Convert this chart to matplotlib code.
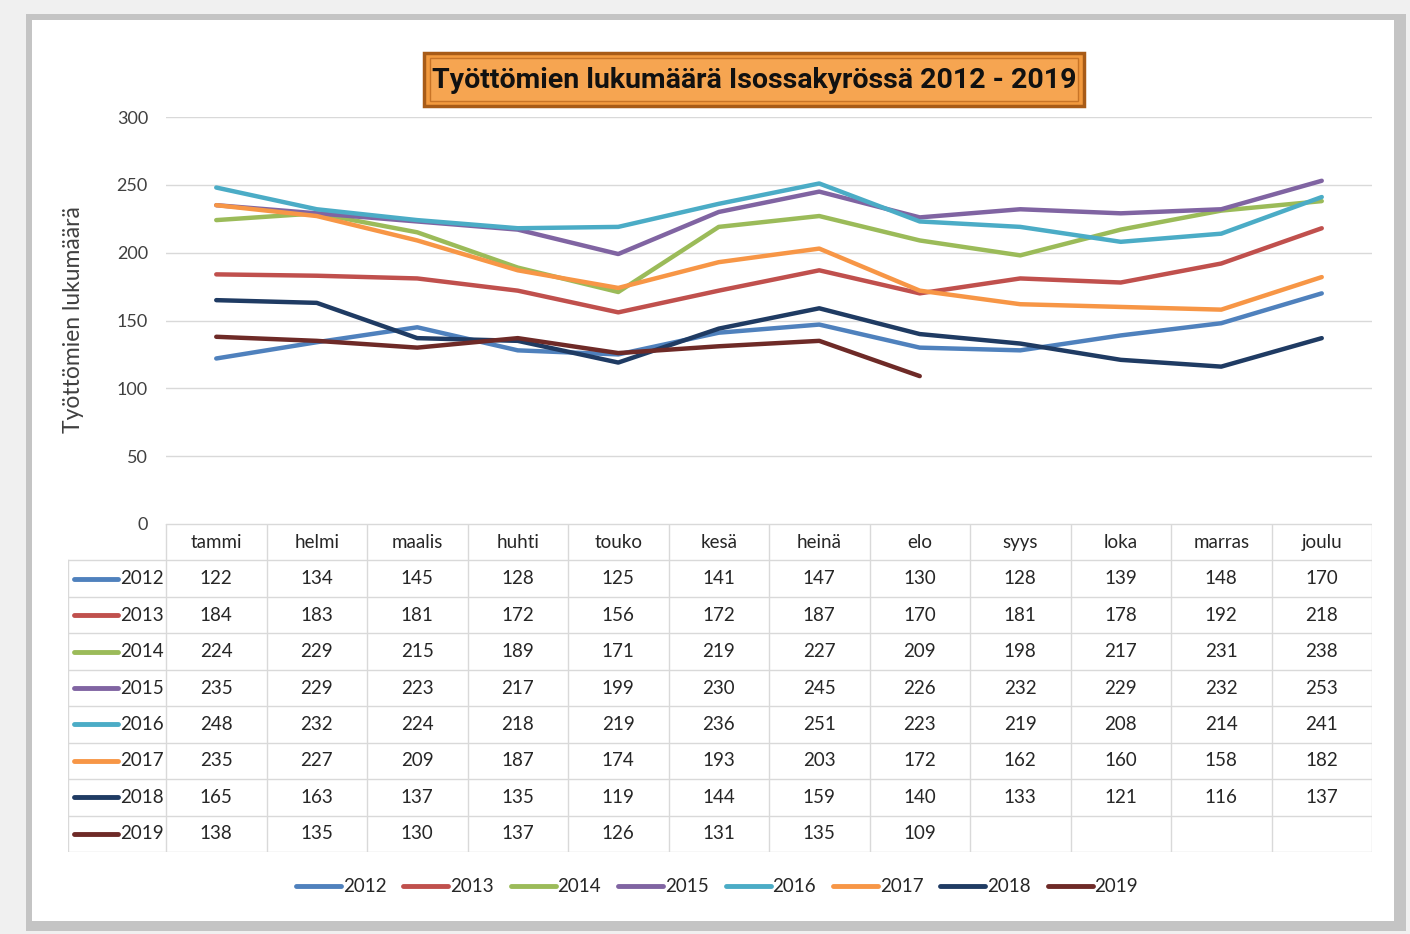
import matplotlib.pyplot as plt
from matplotlib.patches import Rectangle
from matplotlib.lines import Line2D

months = ["tammi", "helmi", "maalis", "huhti", "touko", "kesä",
          "heinä", "elo", "syys", "loka", "marras", "joulu"]
years = ["2012", "2013", "2014", "2015", "2016", "2017", "2018", "2019"]

v2012 = [122, 134, 145, 128, 125, 141, 147, 130, 128, 139, 148, 170]
v2013 = [184, 183, 181, 172, 156, 172, 187, 170, 181, 178, 192, 218]
v2014 = [224, 229, 215, 189, 171, 219, 227, 209, 198, 217, 231, 238]
v2015 = [235, 229, 223, 217, 199, 230, 245, 226, 232, 229, 232, 253]
v2016 = [248, 232, 224, 218, 219, 236, 251, 223, 219, 208, 214, 241]
v2017 = [235, 227, 209, 187, 174, 193, 203, 172, 162, 160, 158, 182]
v2018 = [165, 163, 137, 135, 119, 144, 159, 140, 133, 121, 116, 137]
v2019 = [138, 135, 130, 137, 126, 131, 135, 109]

series = [v2012, v2013, v2014, v2015, v2016, v2017, v2018, v2019]
colors = ["#4F81BD", "#C0504D", "#9BBB59", "#8064A2",
          "#4BACC6", "#F79646", "#1F3B63", "#6E2A27"]
yticks = [0, 50, 100, 150, 200, 250, 300]

plt.rcParams["font.family"] = ["Lato", "DejaVu Sans"]

W, H = 1410, 934
fig = plt.figure(figsize=(W / 100, H / 100), dpi=100, facecolor="#F0F0F0")


def fx(px):
    return px / W


def fy(py):
    return 1 - py / H


# card frame with shadow
fig.patches.append(Rectangle((fx(26), fy(931)), fx(1406 - 26), (931 - 14) / H,
                             transform=fig.transFigure, facecolor="#C4C4C4",
                             edgecolor="none", zorder=-3))
fig.patches.append(Rectangle((fx(32), fy(921)), fx(1394 - 32), (921 - 20) / H,
                             transform=fig.transFigure, facecolor="white",
                             edgecolor="none", zorder=-2))

# title box
fig.patches.append(Rectangle((fx(424), fy(106)), fx(1084 - 424), 53 / H,
                             transform=fig.transFigure, facecolor="#F39A3E",
                             edgecolor="#A85B17", linewidth=2.5, zorder=1))
fig.patches.append(Rectangle((fx(430), fy(101)), fx(1078 - 430), 43 / H,
                             transform=fig.transFigure, facecolor="#F6A551",
                             edgecolor="#C87427", linewidth=1, zorder=1))
fig.text(fx(754), fy(80), "Työttömien lukumäärä Isossakyrössä 2012 - 2019",
         ha="center", va="center", fontsize=20.5, fontweight="bold",
         family=["Roboto", "DejaVu Sans"], color="#111111", zorder=2)

# main chart
ax = fig.add_axes([fx(166), fy(524), fx(1372 - 166), (524 - 117) / H])
ax.patch.set_alpha(0)
x = [i + 0.5 for i in range(12)]
for vals, yr, c in zip(series, years, colors):
    ax.plot(x[:len(vals)], vals, color=c, linewidth=3.2, label=yr,
            solid_capstyle="round")
ax.set_xlim(0, 12)
ax.set_ylim(0, 300)
ax.set_yticks(yticks)
ax.set_xticks([])
ax.grid(axis="y", color="#D9D9D9", linewidth=1)
ax.set_axisbelow(True)
for s in ax.spines.values():
    s.set_visible(False)
ax.tick_params(axis="y", length=0, pad=13, labelsize=13, labelcolor="#404040")
fig.text(fx(74), fy(320), "Työttömien lukumäärä", rotation=90, ha="center",
         va="center", fontsize=16.5, color="#404040")

# data table
lab_w = (166 - 68) / 100.5
tx = fig.add_axes([fx(68), fy(852), fx(1372 - 68), (852 - 524) / H])
tx.patch.set_alpha(0)
tx.set_xlim(-lab_w, 12)
tx.set_ylim(9, 0)
tx.axis("off")
grid_c = "#D9D9D9"
tx.plot([0, 12], [0, 0], color=grid_c, lw=1)
for r in range(1, 10):
    tx.plot([-lab_w, 12], [r, r], color=grid_c, lw=1)
tx.plot([-lab_w, -lab_w], [1, 9], color=grid_c, lw=1)
for c in range(13):
    tx.plot([c, c], [0, 9], color=grid_c, lw=1)
for i, m in enumerate(months):
    tx.text(i + 0.5, 0.5, m, ha="center", va="center", fontsize=13.5, color="#262626")
for r, (vals, yr, col) in enumerate(zip(series, years, colors)):
    ry = r + 1.5
    tx.plot([-lab_w + 0.06, -lab_w + 0.5], [ry, ry], color=col, lw=3.5,
            solid_capstyle="round")
    tx.text(-lab_w + 0.52, ry, yr, ha="left", va="center", fontsize=13.5, color="#262626")
    for i, v in enumerate(vals):
        tx.text(i + 0.5, ry, str(v), ha="center", va="center", fontsize=13.5,
                color="#262626")

# bottom legend
handles = [Line2D([], [], color=c, lw=3.5, solid_capstyle="round") for c in colors]
fig.legend(handles, years, loc="center", bbox_to_anchor=(fx(717), fy(887)),
           ncol=8, frameon=False, fontsize=13.5, handlelength=2.4,
           handletextpad=0.1, columnspacing=0.9, labelcolor="#262626")

fig.savefig("out.png", dpi=100, facecolor=fig.get_facecolor())
